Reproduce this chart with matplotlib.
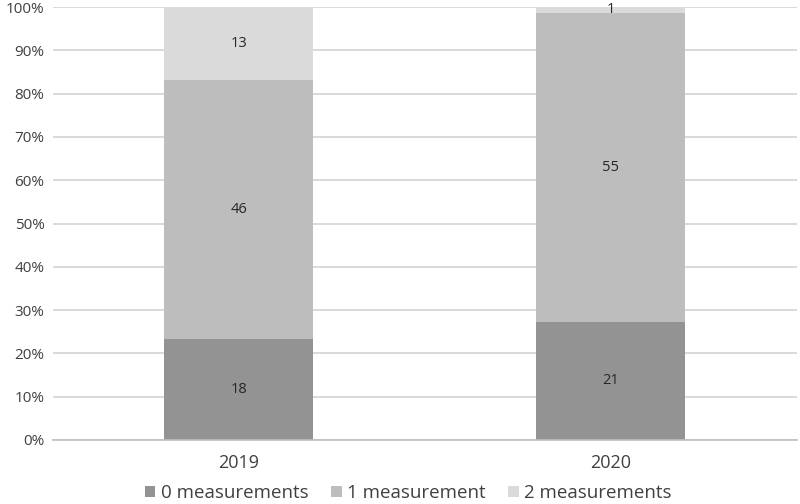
import matplotlib.pyplot as plt
import numpy as np

years = ["2019", "2020"]
series_names = ["0 measurements", "1 measurement", "2 measurements"]
zero_meas = [18, 21]
one_meas = [46, 55]
two_meas = [13, 1]

colors = ["#939393", "#bdbdbd", "#dadada"]

plt.rcParams['font.family'] = ['Open Sans', 'DejaVu Sans']

fig = plt.figure(figsize=(8, 5.04), dpi=100)
ax = fig.add_axes([0.066, 0.127, 0.93, 0.859])

counts = np.array([zero_meas, one_meas, two_meas], dtype=float)
totals = counts.sum(axis=0)
shares = counts / totals * 100

x = np.arange(len(years))
bottom = np.zeros(len(years))
for name, share, cnt, col in zip(series_names, shares, counts, colors):
    ax.bar(x, share, width=0.4, bottom=bottom, color=col, label=name, zorder=2)
    for xi, b, s, c in zip(x, bottom, share, cnt):
        ax.text(xi, b + s / 2, f"{int(c)}", ha="center", va="center",
                fontsize=10.5, color="#262626", zorder=3)
    bottom += share

ax.set_xlim(-0.5, 1.5)
ax.set_ylim(0, 100)
ax.set_yticks(np.arange(0, 101, 10))
ax.set_yticklabels([f"{v}%" for v in range(0, 101, 10)])
ax.set_xticks(x)
ax.set_xticklabels(years, fontsize=13)
ax.tick_params(axis="y", labelsize=11, length=0, pad=6, colors="#404040")
ax.tick_params(axis="x", length=0, pad=10, colors="#404040")
ax.yaxis.grid(True, color="#d9d9d9", linewidth=1.4, zorder=0)
for side in ["top", "right", "left"]:
    ax.spines[side].set_visible(False)
ax.spines["bottom"].set_color("#bfbfbf")
ax.spines["bottom"].set_linewidth(1.2)

ax.legend(loc="center", bbox_to_anchor=(0.478, -0.122), ncol=3, frameon=False,
          fontsize=13.5, handlelength=0.55, handleheight=0.55, handletextpad=0.3,
          columnspacing=1.2, labelcolor="#404040")

fig.savefig("out.png", dpi=100)
